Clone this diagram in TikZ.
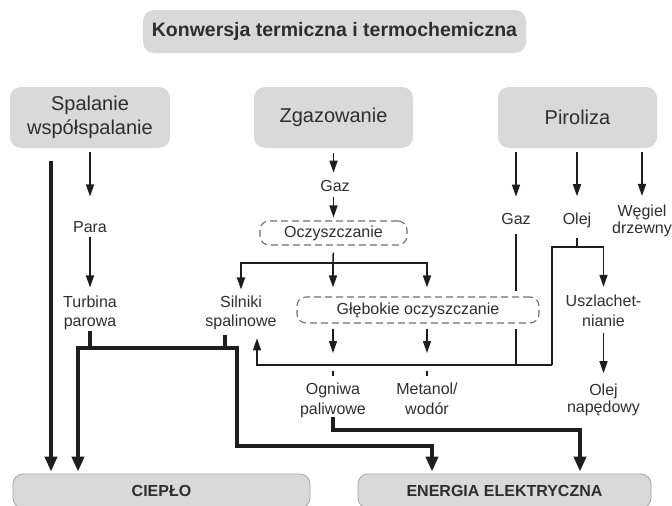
\documentclass[tikz,border=0pt]{standalone}
\usepackage{fontspec}
\setmainfont{Liberation Sans}
\usetikzlibrary{arrows.meta,calc}
\definecolor{KonwGray}{HTML}{D9D9D9}
\definecolor{KonwText}{HTML}{2E2E2E}
\definecolor{KonwLine}{HTML}{1E1E1E}
\definecolor{KonwDash}{HTML}{707070}
\definecolor{KonwEdge}{HTML}{A5A5A5}

\begin{document}
\begin{tikzpicture}[x=1pt, y=-1pt,
  hd/.style={fill=KonwGray, rounded corners=11pt, text=KonwText, align=center, inner sep=0pt,
    font=\fontsize{20}{24}\selectfont},
  lb/.style={text=KonwText, align=center, inner sep=0pt, font=\fontsize{16}{19.5}\selectfont},
  cl/.style={draw=KonwDash, dash pattern=on 7pt off 4pt, rounded corners=9pt, line width=1.1pt,
    fill=white, text=KonwText, inner sep=0pt, font=\fontsize{16}{19.5}\selectfont},
  en/.style={fill=KonwGray, draw=KonwEdge, line width=0.8pt, rounded corners=10pt, text=KonwText,
    inner sep=0pt, font=\bfseries\fontsize{16}{19}\selectfont},
  ln/.style={KonwLine, line width=1.5pt},
  ar/.style={-{Triangle[length=12pt,width=8pt]}, KonwLine, line width=1.5pt},
  tk/.style={KonwLine, line width=4pt, line cap=rect},
  tka/.style={-{Triangle[length=15pt,width=12pt]}, KonwLine, line width=4pt, line cap=rect}]
  \useasboundingbox (0,0) rectangle (672,506);

  \node[hd, font=\bfseries\fontsize{19.5}{23}\selectfont, minimum width=383pt, minimum height=43pt] (ttl) at (334.5,31.5) {Konwersja termiczna i termochemiczna};
  \node[hd, minimum width=160pt, minimum height=61pt] (spal) at (90,117.5) {Spalanie\\współspalanie};
  \node[hd, minimum width=159pt, minimum height=61pt] (zgaz) at (333.5,117.5) {Zgazowanie};
  \node[hd, minimum width=159pt, minimum height=61pt] (piro) at (577.5,117.5) {Piroliza};

  \node[lb] (para) at (90,227.2) {Para};
  \node[lb] (turb) at (90,312.9) {Turbina\\parowa};
  \node[lb] (gaz) at (335,185.5) {Gaz};
  \node[cl, minimum width=147pt, minimum height=24pt] (ocz) at (333.5,233) {Oczyszczanie};
  \node[lb] (siln) at (241,312.9) {Silniki\\spalinowe};
  \node[cl, minimum width=242pt, minimum height=26pt] (gleb) at (418,310) {Głębokie oczyszczanie};
  \node[lb] (ogn) at (333,400.5) {Ogniwa\\paliwowe};
  \node[lb] (meta) at (427,398.7) {Metanol/\\wodór};
  \node[lb] (gaz2) at (516,218.5) {Gaz};
  \node[lb] (olej) at (577,219.9) {Olej};
  \node[lb, font=\fontsize{16}{16.5}\selectfont] (wegl) at (642,220.9) {Węgiel\\drzewny};
  \node[lb] (uszl) at (603.5,310.7) {Uszlachet-\\nianie};
  \node[lb, font=\fontsize{16}{17}\selectfont] (olnp) at (603.5,399.4) {Olej\\napędowy};
  \node[en, minimum width=297pt, minimum height=34pt] (ciep) at (161.5,491) {CIEPŁO};
  \node[en, minimum width=293pt, minimum height=34pt] (ener) at (504.5,491) {ENERGIA ELEKTRYCZNA};

  \coordinate (spl) at (333,263);
  \coordinate (oj) at (577,247);
  \coordinate (ojL) at (552,365);
  \coordinate (ret) at (257,365);
  \coordinate (hL) at (51,163);
  \coordinate (tL) at (78,348);
  \coordinate (tR) at (237,348);
  \coordinate (sT) at (225,348);
  \coordinate (eL) at (432,446);
  \coordinate (oR) at (580,430);

  \draw[ar, shorten <=4pt, shorten >=25pt] (spal.south) -- (para.north);
  \draw[ar, shorten <=4pt, shorten >=8pt] (para) -- (turb);
  \draw[ar, shorten <=5pt, shorten >=7pt] (zgaz.south) -- (zgaz.south |- gaz.north);
  \draw[ar, shorten <=6pt, shorten >=3pt] (zgaz.south |- gaz.south) -- (zgaz.south |- ocz.north);
  \draw[ln, shorten <=7pt] (ocz.south) -- (spl);
  \draw[ar, shorten >=6pt] (spl) -| (siln.north);
  \draw[ar, shorten >=9pt] (spl) -- (spl |- gleb.north);
  \draw[ar, shorten >=9pt] (spl) -| (meta |- gleb.north);
  \draw[ar, shorten <=5pt, shorten >=12pt] (gleb.south -| ogn) -- (ogn |- ret);
  \draw[ar, shorten <=5pt, shorten >=12pt] (gleb.south -| meta) -- (meta |- ret);
  \draw[ln, shorten <=6pt, shorten >=7pt] (ogn |- ret) -- (ogn.north);
  \draw[ln, shorten <=6pt, shorten >=7pt] (meta |- ret) -- (meta.north);

  \draw[ar, shorten <=4pt, shorten >=16pt] (piro.south -| gaz2) -- (gaz2.north);
  \draw[ar, shorten <=4pt, shorten >=16pt] (piro.south -| olej) -- (olej.north);
  \draw[ar, shorten <=4pt, shorten >=9pt] (piro.south -| wegl) -- (wegl.north);
  \draw[ln, shorten <=10pt, shorten >=5pt] (gaz2.south) -- (gaz2 |- gleb.north);
  \draw[ln, shorten <=5pt] (gaz2 |- gleb.south) -- (gaz2 |- ret);
  \draw[ln, shorten <=10pt] (olej.south) -- (oj);
  \draw[ln] (oj) -| (ojL);
  \draw[ar, shorten >=8pt] (oj) -| (uszl.north);
  \draw[ar, shorten <=6pt, shorten >=10pt] (uszl.south) -- (olnp.north);
  \draw[ar, shorten >=8pt] (ojL) -- (ret) -- (ret |- siln.south);

  \draw[tka, shorten <=15pt, shorten >=2pt] (spal.south -| hL) -- (hL |- ciep.north);
  \draw[tk, shorten <=3pt] (turb.south) -- (turb |- tL);
  \draw[tk, shorten <=7pt] (siln.south -| sT) -- (sT);
  \draw[tka, shorten >=2pt] (tR) -- (tL) -- (tL |- ciep.north);
  \draw[tka, shorten >=2pt] (tR) |- (eL) -- (eL |- ener.north);
  \draw[tka, shorten <=1pt, shorten >=2pt] (ogn.south) |- (oR) -- (oR |- ener.north);
\end{tikzpicture}
\end{document}
